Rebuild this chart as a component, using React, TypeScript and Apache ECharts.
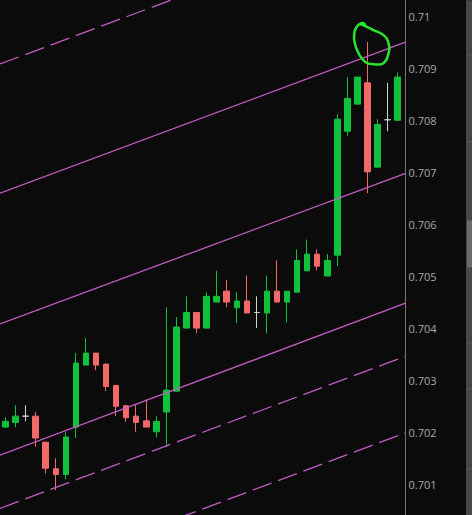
import { useEffect, useRef } from "react";
import * as echarts from "echarts";

// OHLC per bar (bar index = position in the arrays)
const opens = [
  0.70211, 0.7022, 0.70232, 0.70232, 0.70182, 0.70131, 0.7012, 0.70211, 0.7033, 0.70353,
  0.70332, 0.70291, 0.70252, 0.70232, 0.70223, 0.70202, 0.7024, 0.7028, 0.70401, 0.70431,
  0.70401, 0.70451, 0.70472, 0.7044, 0.70453, 0.70431, 0.7043, 0.70472, 0.70451, 0.7047,
  0.70511, 0.70543, 0.70501, 0.70541, 0.70779, 0.70831, 0.70872, 0.7071, 0.70801, 0.708,
];
const closes = [
  0.70222, 0.70232, 0.70232, 0.7019, 0.70132, 0.7012, 0.70192, 0.70334, 0.70353, 0.7033,
  0.70289, 0.70251, 0.70229, 0.7022, 0.70211, 0.70222, 0.70282, 0.70403, 0.70431, 0.70401,
  0.70462, 0.70462, 0.70451, 0.70453, 0.7043, 0.70431, 0.70472, 0.70451, 0.70472, 0.70531,
  0.70543, 0.7052, 0.70531, 0.70802, 0.70842, 0.70883, 0.70701, 0.70792, 0.70801, 0.70883,
];
const lows = [
  0.7021, 0.70211, 0.70222, 0.70173, 0.70122, 0.7009, 0.70111, 0.7019, 0.7033, 0.7032,
  0.7028, 0.70232, 0.70221, 0.70202, 0.70211, 0.70191, 0.70173, 0.7028, 0.70401, 0.70391,
  0.70401, 0.70451, 0.70441, 0.70411, 0.7043, 0.70401, 0.70391, 0.70451, 0.70412, 0.7047,
  0.70511, 0.70512, 0.70501, 0.7052, 0.7077, 0.70831, 0.7066, 0.7071, 0.70779, 0.708,
];
const highs = [
  0.7023, 0.70253, 0.70253, 0.7024, 0.70183, 0.70151, 0.70201, 0.70353, 0.70382, 0.70353,
  0.70332, 0.70291, 0.70253, 0.70253, 0.70264, 0.70232, 0.70441, 0.70422, 0.70462, 0.70431,
  0.7047, 0.70511, 0.70493, 0.7047, 0.70502, 0.70462, 0.70502, 0.70531, 0.70472, 0.70552,
  0.70571, 0.70552, 0.70543, 0.70812, 0.70883, 0.70883, 0.7095, 0.70802, 0.70872, 0.70892,
];

// Price channel: [price at left edge, price at right edge]
const solidChannel = [
  [0.7066, 0.7095],
  [0.70409, 0.70698],
  [0.70157, 0.70449],
];
const dashedChannel = [
  [0.70908, 0.71199],
  [0.70055, 0.70347],
  [0.69908, 0.702],
];

// Price axis
const PRICE_MIN = 0.7;
const PRICE_MAX = 0.711;
const PRICE_STEP = 0.001;

// Bar that is marked with the hand-drawn loop
const MARKED_BAR = 36;

// Layout
const W = 472;
const VIEW_H = 515;
const PAD_TOP = 36.3;
const CHART_H = 573.1;
const X_MIN = -0.547;
const X_MAX = 39.78;

const BG = "#0b0b0b";
const UP = "#12c13b";
const DOWN = "#f36868";
const DOJI = "#d2d2d2";
const CHANNEL = "#c35cc6";

// loop around the marked high, offsets from its centre in px
const loopShape = [
  [-11, -20], [-4, -17], [2, -14], [12, -9], [17, -1], [17, 9], [12, 19], [2, 20],
  [-6, 18], [-13, 9], [-17, -2], [-17, -12], [-15, -17], [-12, -20], [-8, -21], [-6, -18],
];

export default function App() {
  const ref = useRef<HTMLDivElement>(null);

  useEffect(() => {
    const chart = echarts.init(ref.current!, null, { renderer: "svg" });

    const candles = opens.map((o, i) => {
      const item: any = { value: [i, o, closes[i], lows[i], highs[i]] };
      if (o === closes[i]) {
        item.itemStyle = { color: DOJI, color0: DOJI, borderColor: DOJI, borderColor0: DOJI };
      }
      return item;
    });

    const lineSeries = (pair: number[], dashed: boolean) => ({
      type: "line",
      data: [
        [X_MIN, pair[0]],
        [X_MAX, pair[1]],
      ],
      showSymbol: false,
      symbol: "none",
      silent: true,
      z: 3,
      lineStyle: {
        color: CHANNEL,
        width: 1.3,
        type: dashed ? [20, 7] : "solid",
      },
    });

    chart.setOption({
      animation: false,
      backgroundColor: BG,
      grid: {
        left: 0,
        right: 66.5,
        top: 0,
        bottom: 0,
        containLabel: false,
        outerBoundsMode: "none",
      },
      xAxis: {
        type: "value",
        min: X_MIN,
        max: X_MAX,
        show: false,
        splitLine: { show: false },
      },
      yAxis: {
        type: "value",
        position: "right",
        min: PRICE_MIN,
        max: PRICE_MAX,
        interval: PRICE_STEP,
        splitLine: { show: false },
        axisTick: { show: false },
        axisLine: { show: true, onZero: false, lineStyle: { color: "#767676", width: 1 } },
        axisLabel: {
          margin: 3,
          color: "#a9a9a9",
          fontFamily: "Open Sans",
          fontSize: 11,
          showMinLabel: false,
          showMaxLabel: false,
          formatter: (v: number) => String(parseFloat(v.toFixed(3))),
        },
      },
      series: [
        {
          type: "candlestick",
          data: candles,
          barWidth: 6,
          z: 2,
          itemStyle: {
            color: UP,
            color0: DOWN,
            borderColor: UP,
            borderColor0: DOWN,
            borderColorDoji: DOJI,
            borderWidth: 1,
          },
        },
        ...solidChannel.map((p) => lineSeries(p, false)),
        ...dashedChannel.map((p) => lineSeries(p, true)),
      ],
    });

    const [mx, my] = chart.convertToPixel({ xAxisIndex: 0, yAxisIndex: 0 }, [
      MARKED_BAR + 0.4,
      highs[MARKED_BAR],
    ]);
    const cy = my + 2;

    const stripTicks = [54, 141, 342, 388, 468];

    chart.setOption({
      graphic: [
        {
          type: "rect",
          shape: { x: 466, y: PAD_TOP, width: 6, height: VIEW_H },
          style: { fill: "#474747" },
          silent: true,
        },
        ...stripTicks.map((t) => ({
          type: "rect",
          shape: { x: 466, y: PAD_TOP + t, width: 6, height: 1 },
          style: { fill: "#5f5f5f" },
          silent: true,
        })),
        {
          type: "rect",
          shape: { x: 467, y: PAD_TOP + 220, width: 5, height: 47 },
          style: { fill: "#6b6b6b" },
          silent: true,
        },
        {
          type: "polyline",
          shape: {
            points: loopShape.map(([dx, dy]) => [mx + dx, cy + dy]),
            smooth: 0.5,
          },
          style: { stroke: "#27e62a", lineWidth: 2.5, fill: "none", lineCap: "round" },
          silent: true,
          z: 10,
        },
      ],
    });

    return () => chart.dispose();
  }, []);

  return (
    <div
      style={{
        position: "fixed",
        left: 0,
        top: 0,
        width: W,
        height: VIEW_H,
        overflow: "hidden",
        background: BG,
      }}
    >
      <div
        ref={ref}
        style={{ position: "absolute", left: 0, top: -PAD_TOP, width: W, height: CHART_H }}
      />
    </div>
  );
}
